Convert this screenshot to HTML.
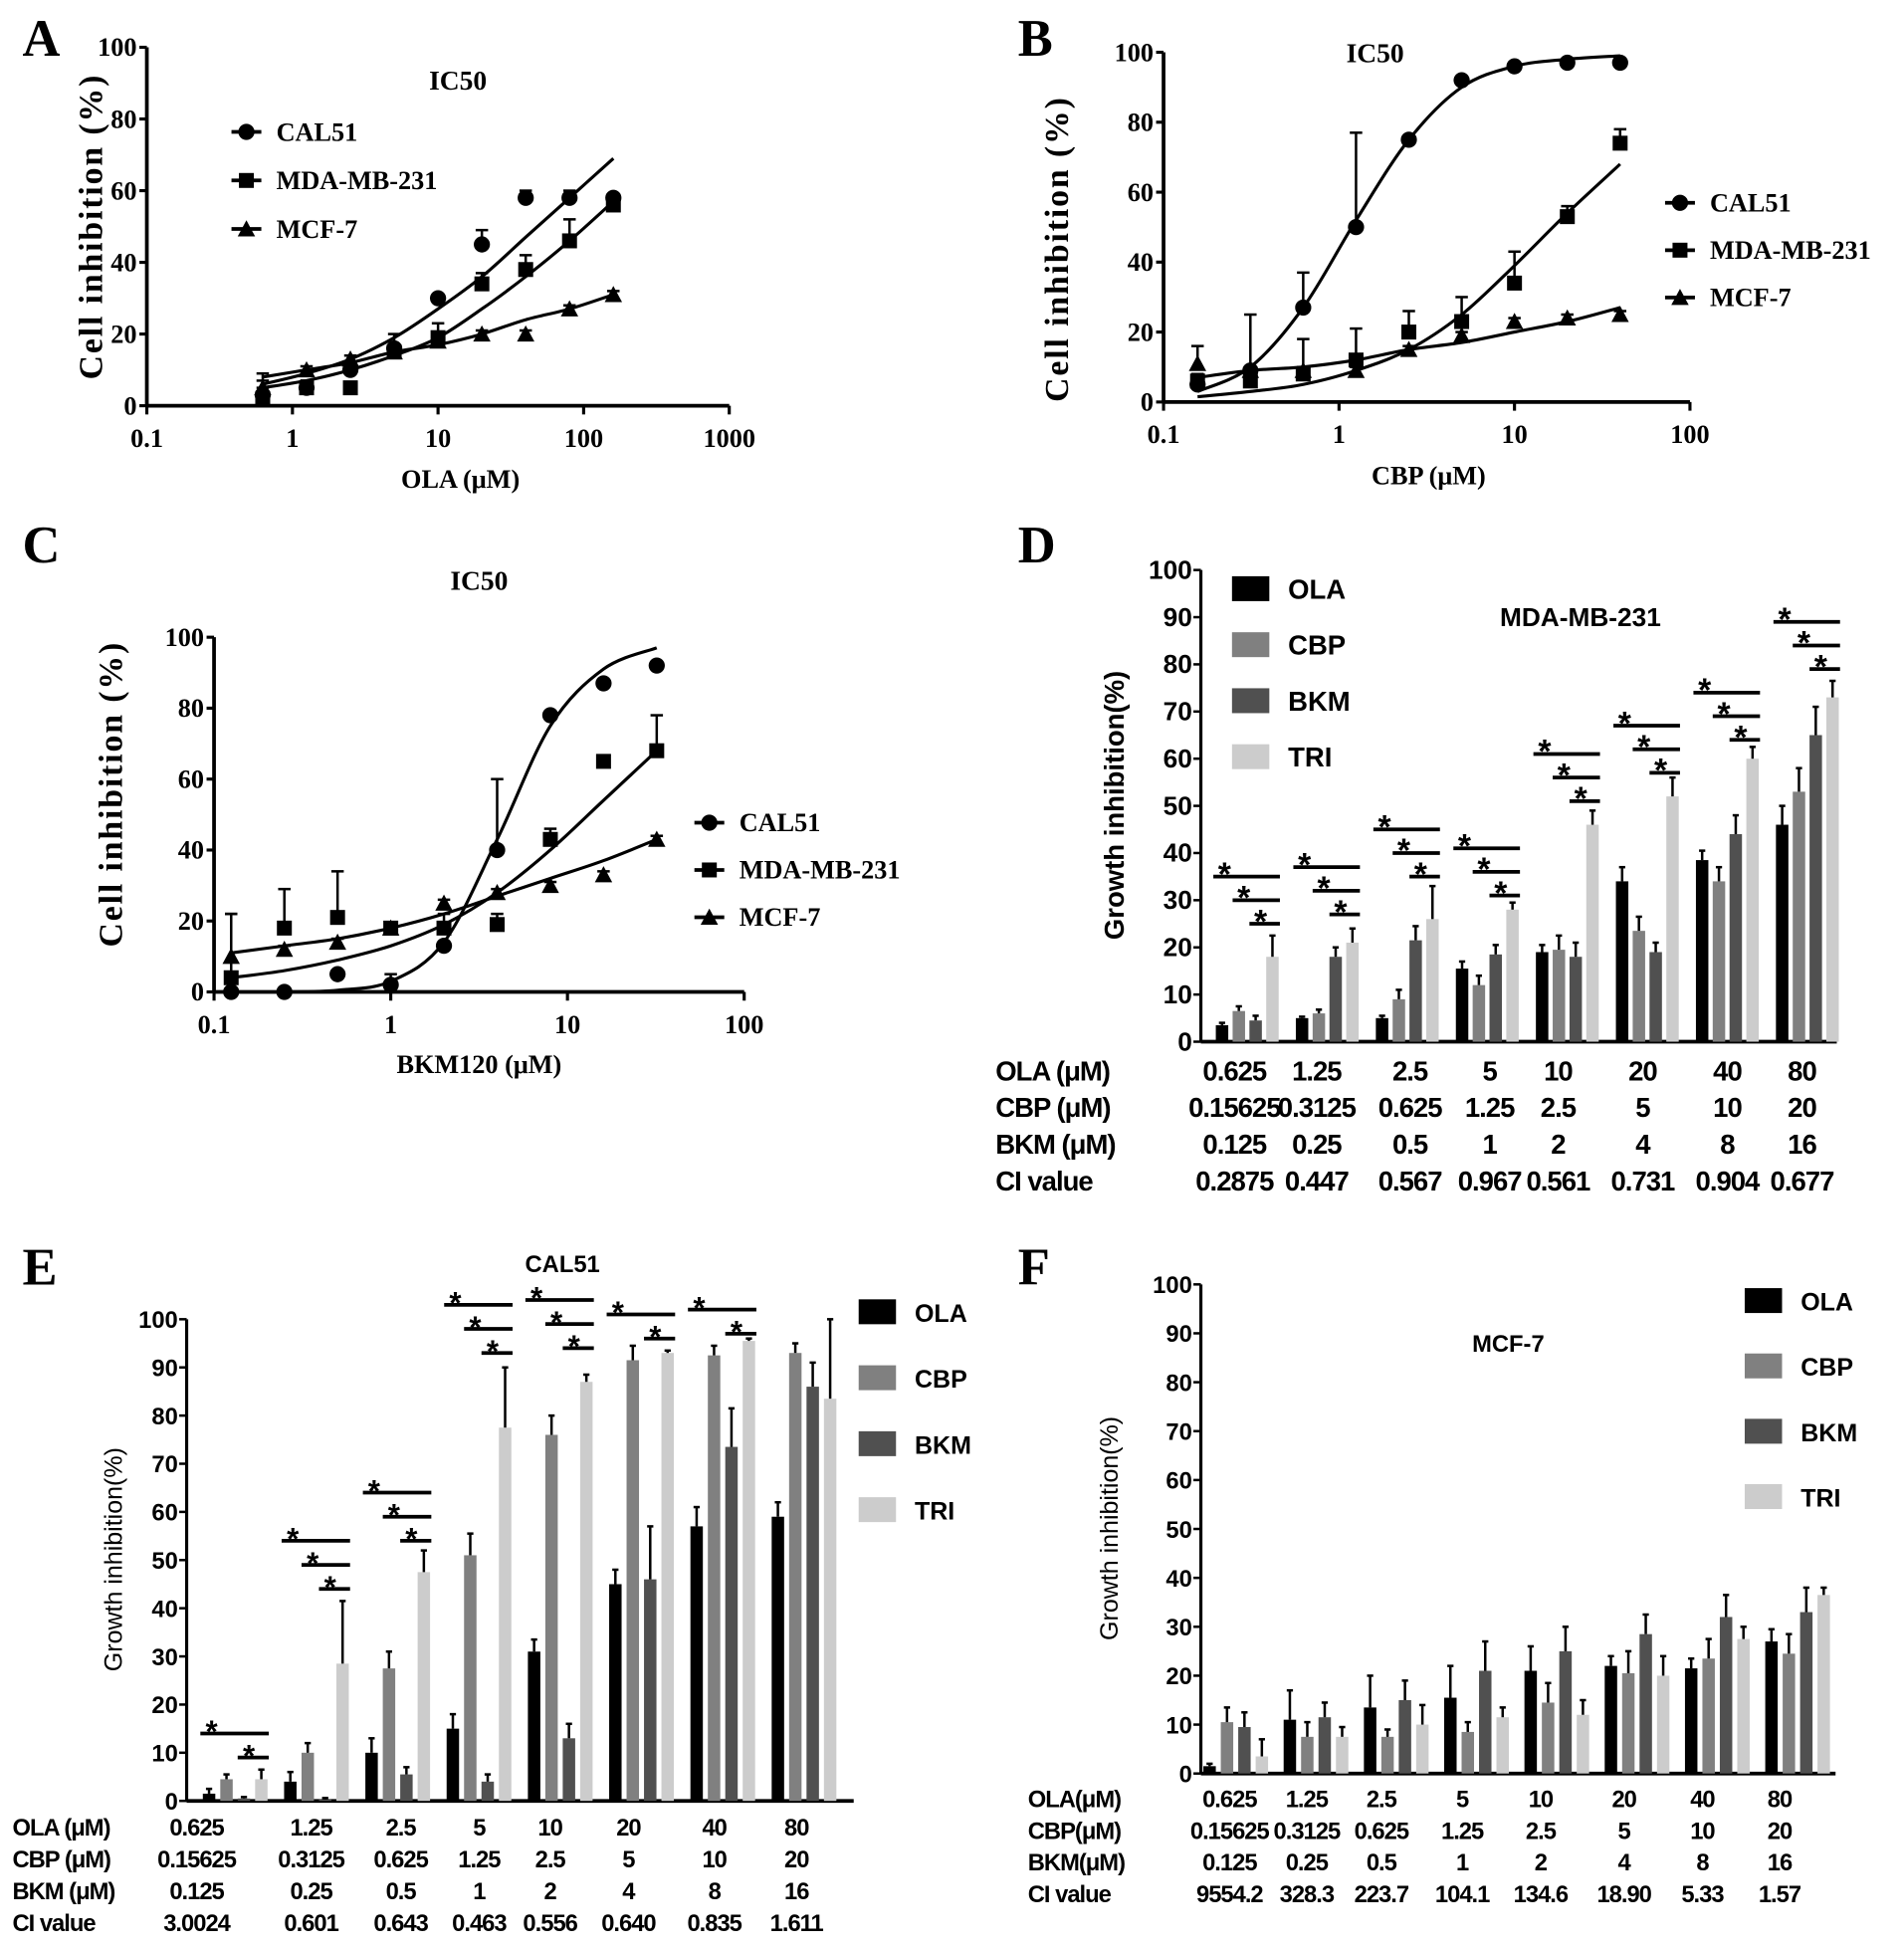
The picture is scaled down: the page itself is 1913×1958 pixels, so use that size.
<!DOCTYPE html>
<html><head><meta charset="utf-8"><style>
html,body{margin:0;padding:0;background:#fff;}
svg{display:block;}
.serif{font-family:"Liberation Serif",serif;font-weight:bold;}
.sans{font-family:"Liberation Sans",sans-serif;font-weight:bold;}
.sansn{font-family:"Liberation Sans",sans-serif;}
.tbl{font-family:"Liberation Sans",sans-serif;font-weight:bold;letter-spacing:-0.8px;}
</style></head><body>
<svg id="fig" width="1913" height="1958" viewBox="0 0 1530 1566" preserveAspectRatio="none" xmlns="http://www.w3.org/2000/svg"></svg>
<script>
// ---------- Panel A data ----------
const aX=[0.625,1.25,2.5,5,10,20,40,80,160];
const aCal=[3,5,10,16,30,45,58,58,58];
const aCalErr=[4,2,2,4,1,4,2,2,1];
const aMda=[2,5,5,15,19,34,38,46,56];
const aMdaErr=[3,2,1,2,4,3,4,6,2];
const aMcf=[5,10,13,15,18,20,20,27,31];
const aMcfErr=[4,1,1,1,1,1,1,1,1];
const aFitX=[0.625,1.25,2.5,5,10,20,40,80,160];
const aCalFit=[6,9,13,19,27,36,47,58,69];
const aMdaFit=[5,7,10,14,19,27,36,46,57];
const aMcfFit=[8,10,12,15,17,20,24,27,31];
// ---------- Panel B data ----------
const bX=[0.15625,0.3125,0.625,1.25,2.5,5,10,20,40];
const bCal=[5,9,27,50,75,92,96,97,97];
const bCalErr=[1,16,10,27,1,1,1,1,1];
const bMda=[6,6,8,12,20,23,34,53,74];
const bMdaErr=[2,1,10,9,6,7,9,3,4];
const bMcf=[11,9,9,9,15,19,23,24,25];
const bMcfErr=[5,1,1,1,1,1,1,1,1];
const bFitX=[0.15625,0.3125,0.625,1.25,2.5,5,10,20,40];
const bCalFit=[3,10,27,52,75,90,96,98,99];
const bMdaFit=[1.5,3,5,9,15,25,39,54,68];
const bMcfFit=[7,9,10,12,15,17,20,23,27];
// ---------- Panel C data ----------
const cX=[0.125,0.25,0.5,1,2,4,8,16,32];
const cCal=[0,0,5,2,13,40,78,87,92];
const cCalErr=[1,1,1,3,1,20,1,1,1];
const cMda=[4,18,21,18,18,19,43,65,68];
const cMdaErr=[18,11,13,1,4,3,3,1,10];
const cMcf=[10,12,14,18,25,28,30,33,43];
const cMcfErr=[12,1,1,1,1,1,1,1,1];
const cFitX=[0.125,0.25,0.5,1,2,4,8,16,32];
const cCalFit=[0,0,0.5,3,14,43,75,91,97];
const cMdaFit=[4,6,9,13,19,28,40,54,68];
const cMcfFit=[11,13,15,18,22,27,32,37,43];
// ---------- Bar panels ----------
const groups=["0.625","1.25","2.5","5","10","20","40","80"];
const seriesNames=["OLA","CBP","BKM","TRI"];
const dOla=[3.5,5,5,15.5,19,34,38.5,46];
const dCbp=[6.5,6,9,12,19.5,23.5,34,53];
const dBkm=[4.5,18,21.5,18.5,18,19,44,65];
const dTri=[18,21,26,28,46,52,60,73];
const dOlaErr=[0.5,0.3,0.5,1.5,1.5,3,2,4];
const dCbpErr=[1,0.8,2,2,3,3,3,5];
const dBkmErr=[1,2,3,2,3,2,4,6];
const dTriErr=[4.5,3,7,1.5,3,4,2.5,3.5];
const dSigBase=[25,27,35,31,51,57,64,79];
const dSigCount=[3,3,3,3,3,3,3,3];
const eOla=[1.5,4,10,15,31,45,57,59];
const eCbp=[4.5,10,27.5,51,76,91.5,92.5,93];
const eBkm=[0.5,0.3,5.5,4,13,46,73.5,86];
const eTri=[4.5,28.5,47.5,77.5,87,93,95.5,83.5];
const eOlaErr=[1,2,3,3,2.5,3,4,3];
const eCbpErr=[1,2,3.5,4.5,4,3,2,2];
const eBkmErr=[0.3,0.3,1.5,1.5,3,11,8,5];
const eTriErr=[2,13,4.5,12.5,1.5,0.5,0.5,16.5];
const eSigBase=[9,44,54,93,94,96,97,0];
const eSigCount=[2,3,3,3,3,2,2,0];
const fOla=[1.5,11,13.5,15.5,21,22,21.5,27];
const fCbp=[10.5,7.5,7.5,8.5,14.5,20.5,23.5,24.5];
const fBkm=[9.5,11.5,15,21,25,28.5,32,33];
const fTri=[3.5,7.5,10,11.5,12,20,27.5,36.5];
const fOlaErr=[0.5,6,6.5,6.5,5,2,2,2.5];
const fCbpErr=[3,3,1.5,2,4,4.5,4,4];
const fBkmErr=[3,3,4,6,5,4,4.5,5];
const fTriErr=[3.5,2,4,2,3,4,2.5,1.5];

const NS="http://www.w3.org/2000/svg";
const svg=document.getElementById('fig');
function mk(tag,attrs,parent){const e=document.createElementNS(NS,tag);for(const k in attrs)e.setAttribute(k,attrs[k]);(parent||svg).appendChild(e);return e;}
function txt(s,x,y,size,cls,anchor,parent,rot){const t=mk('text',{x:x,y:y,'font-size':size,class:cls,'text-anchor':anchor||'middle',fill:'#000'},parent);if(rot)t.setAttribute('transform','rotate(-90 '+x+' '+y+')');t.textContent=s;return t;}

function panelLetter(s,x,y){const t=txt(s,x,y,42,'serif','start');

}

function marker(g,type,x,y,s){
  if(type==='circle')return mk('circle',{cx:x,cy:y,r:6.5*s,fill:'#000'},g);
  if(type==='square')return mk('rect',{x:x-6*s,y:y-6*s,width:12*s,height:12*s,fill:'#000'},g);
  return mk('polygon',{points:(x)+','+(y-7*s)+' '+(x-7*s)+','+(y+6*s)+' '+(x+7*s)+','+(y+6*s),fill:'#000'},g);
}

function scatterPanel(L,xs,series,fitX,legendNames){
  const g=mk('g',{});
  
  
  const xS=v=>L.x0+(Math.log10(v)-L.logMin)*L.dec;
  const yS=v=>L.y0-(v/100)*(L.y0-L.y100);
  const xEnd=L.x0+(L.logMax-L.logMin)*L.dec;
  const ax=mk('g',{},g);
  
  
  mk('line',{x1:L.x0,y1:L.y0,x2:L.x0,y2:L.y100,stroke:'#000','stroke-width':3},ax);
  mk('line',{x1:L.x0,y1:L.y0,x2:xEnd,y2:L.y0,stroke:'#000','stroke-width':3},ax);
  for(let v=0;v<=100;v+=20){const y=yS(v);mk('line',{x1:L.x0-6,y1:y,x2:L.x0,y2:y,stroke:'#000','stroke-width':2.5},ax);txt(String(v),L.x0-8,y+7,21,'serif','end',ax);}
  for(let p=L.logMin;p<=L.logMax;p++){const x=L.x0+(p-L.logMin)*L.dec;mk('line',{x1:x,y1:L.y0,x2:x,y2:L.y0+7,stroke:'#000','stroke-width':2.5},ax);
    txt(p<0?'0.1':String(Math.pow(10,p)),x,L.y0+33,21,'serif','middle',ax);}
  const yt=txt('Cell inhibition  (%)',L.ytx,L.yty,27,'serif','middle',g,true);
  yt.setAttribute('letter-spacing','1.5');
  
  const xt=txt(L.xlabel,L.xlx,L.xly,21,'serif','middle',g);
  
  const tt=txt('IC50',L.tx,L.ty,22,'serif','middle',g);
  
  const types=['circle','square','triangle'];
  series.forEach((s,i)=>{
    const sg=mk('g',{},g);
    
    
    const path=mk('path',{d:smooth(fitX.map((x,j)=>[xS(x),yS(s.fit[j])])),fill:'none',stroke:'#000','stroke-width':2.5},sg);
    
    s.vals.forEach((v,j)=>{const x=xS(xs[j]),y=yS(v),ye=yS(v+s.err[j]);
      mk('line',{x1:x,y1:y,x2:x,y2:ye,stroke:'#000','stroke-width':2},sg);
      mk('line',{x1:x-5,y1:ye,x2:x+5,y2:ye,stroke:'#000','stroke-width':2},sg);
      const m=marker(sg,types[i],x,y,1);
      
      });
  });
  legendNames.forEach((n,i)=>{const lg=mk('g',{},g);
    
    
    const y=L.ly+i*L.lsp;
    mk('line',{x1:L.lx-12,y1:y,x2:L.lx+12,y2:y,stroke:'#000','stroke-width':3},lg);
    marker(lg,types[i],L.lx,y,1);
    txt(n,L.lx+24,y+7,21,'serif','start',lg);});
}
function smooth(pts){let d='M'+pts[0][0]+','+pts[0][1];
  for(let i=0;i<pts.length-1;i++){const p0=pts[Math.max(0,i-1)],p1=pts[i],p2=pts[i+1],p3=pts[Math.min(pts.length-1,i+2)];
    const c1=[p1[0]+(p2[0]-p0[0])/6,p1[1]+(p2[1]-p0[1])/6],c2=[p2[0]-(p3[0]-p1[0])/6,p2[1]-(p3[1]-p1[1])/6];
    d+=' C'+c1[0].toFixed(1)+','+c1[1].toFixed(1)+' '+c2[0].toFixed(1)+','+c2[1].toFixed(1)+' '+p2[0].toFixed(1)+','+p2[1].toFixed(1);}
  return d;}

const colors=['#000000','#808080','#505050','#cccccc'];
function barPanel(L,vals,errs,sigBase,sigCount,table){
  const g=mk('g',{});
  
  
  const yS=v=>L.y0-(v/100)*(L.y0-L.y100);
  const gx=i=>L.gx0+i*L.gsp;
  const bw=L.bw,bs=L.bs;
  const ax=mk('g',{},g);
  
  
  mk('line',{x1:L.x0,y1:L.y0,x2:L.x0,y2:L.y100,stroke:'#000','stroke-width':2.5},ax);
  mk('line',{x1:L.x0,y1:L.y0,x2:L.xEnd,y2:L.y0,stroke:'#000','stroke-width':3},ax);
  for(let v=0;v<=100;v+=10){const y=yS(v);mk('line',{x1:L.x0-6,y1:y,x2:L.x0,y2:y,stroke:'#000','stroke-width':2},ax);txt(String(v),L.x0-7,y+7,L.tfs,'sans','end',ax);}
  const yt=txt('Growth inhibition(%)',L.ytx,L.yty,L.yfs,L.ycls,'middle',g,true);
  
  const tt=txt(L.title,L.tx,L.ty,L.tfs,'sans','middle',g);
  
  for(let i=0;i<groups.length;i++){
    for(let s=0;s<4;s++){
      const x=gx(i)+s*bs, v=vals[s][i], e=errs[s][i];
      const r=mk('rect',{x:x,y:yS(v),width:bw,height:Math.max(0,L.y0-yS(v)),fill:colors[s]},g);
      
      
      const cx=x+bw/2;
      mk('line',{x1:cx,y1:yS(v),x2:cx,y2:yS(v+e),stroke:'#000','stroke-width':2},g);
      mk('line',{x1:cx-2.5,y1:yS(v+e),x2:cx+2.5,y2:yS(v+e),stroke:'#000','stroke-width':2},g);
    }
    const n=sigCount[i];
    for(let k=0;k<n;k++){
      const y=yS(sigBase[i]+k*L.sigSp);
      const startBar=(n===2&&k===1)?0:(2-k);
      const x1=gx(i)+startBar*bs-(k===n-1?2:0), x2=gx(i)+3*bs+bw+1;
      const sl=mk('line',{x1:x1,y1:y,x2:x2,y2:y,stroke:'#000','stroke-width':3},g);
      
      
      txt('*',x1+9,y+7,L.tfs+6,'sans','middle',g);
    }
  }
  seriesNames.forEach((n,i)=>{const lg=mk('g',{},g);
    
    
    const y=L.ly+i*L.lsp;
    mk('rect',{x:L.lx,y:y-10,width:30,height:20,fill:colors[i]},lg);
    txt(n,L.lx+45,y+8,L.lfs,'sans','start',lg);});
  const tg=mk('g',{},g);
  
  
  table.rows.forEach((row,r)=>{const y=table.y0+r*table.dy;
    txt(row[0],table.lx,y,table.fs,'tbl','start',tg);
    for(let c=1;c<row.length;c++)txt(row[c],table.cx[c-1],y,table.fs,'tbl','middle',tg);});
}

panelLetter('A',18,45);panelLetter('B',818,45);panelLetter('C',18,452);panelLetter('D',818,452);panelLetter('E',18,1032);panelLetter('F',818,1032);

scatterPanel({name:'panel-a-chart',x0:118,y0:326,y100:38,logMin:-1,logMax:3,dec:117,ytx:82,yty:182,xlabel:'OLA (μM)',xlx:370,xly:392,tx:368,ty:72,lx:198,ly:106,lsp:39},
 aX,[{vals:aCal,err:aCalErr,fit:aCalFit},{vals:aMda,err:aMdaErr,fit:aMdaFit},{vals:aMcf,err:aMcfErr,fit:aMcfFit}],aFitX,['CAL51','MDA-MB-231','MCF-7']);
scatterPanel({name:'panel-b-chart',x0:935,y0:323,y100:42,logMin:-1,logMax:2,dec:141,ytx:858,yty:200,xlabel:'CBP (μM)',xlx:1148,xly:389,tx:1105,ty:50,lx:1350,ly:163,lsp:38},
 bX,[{vals:bCal,err:bCalErr,fit:bCalFit},{vals:bMda,err:bMdaErr,fit:bMdaFit},{vals:bMcf,err:bMcfErr,fit:bMcfFit}],bFitX,['CAL51','MDA-MB-231','MCF-7']);
scatterPanel({name:'panel-c-chart',x0:172,y0:797,y100:512,logMin:-1,logMax:2,dec:142,ytx:98,yty:638,xlabel:'BKM120 (μM)',xlx:385,xly:862,tx:385,ty:474,lx:570,ly:661,lsp:38},
 cX,[{vals:cCal,err:cCalErr,fit:cCalFit},{vals:cMda,err:cMdaErr,fit:cMdaFit},{vals:cMcf,err:cMcfErr,fit:cMcfFit}],cFitX,['CAL51','MDA-MB-231','MCF-7']);

barPanel({name:'panel-d-chart',x0:965,y0:837,y100:458,xEnd:1476,gx0:977,gsp:64.3,bw:10,bs:13.5,tfs:21,yfs:22,ycls:'sans',ytx:903,yty:647,title:'MDA-MB-231',tx:1270,ty:503,ly:473,lsp:45,lx:990,lfs:22,sigSp:5},
 [dOla,dCbp,dBkm,dTri],[dOlaErr,dCbpErr,dBkmErr,dTriErr],dSigBase,dSigCount,
 {y0:868,dy:29.5,lx:800,fs:22,cx:[992,1058,1133,1197,1252,1320,1388,1448],rows:[
  ['OLA  (μM)','0.625','1.25','2.5','5','10','20','40','80'],
  ['CBP  (μM)','0.15625','0.3125','0.625','1.25','2.5','5','10','20'],
  ['BKM  (μM)','0.125','0.25','0.5','1','2','4','8','16'],
  ['  CI value','0.2875','0.447','0.567','0.967','0.561','0.731','0.904','0.677']]});
barPanel({name:'panel-e-chart',x0:150,y0:1447,y100:1060,xEnd:686,gx0:163,gsp:65.3,bw:10,bs:14,tfs:19,yfs:20,ycls:'sansn',ytx:98,yty:1253,title:'CAL51',tx:452,ty:1022,ly:1054,lsp:53,lx:690,lfs:20,sigSp:5},
 [eOla,eCbp,eBkm,eTri],[eOlaErr,eCbpErr,eBkmErr,eTriErr],eSigBase,eSigCount,
 {y0:1475,dy:25.5,lx:10,fs:19,cx:[158,250,322,385,442,505,574,640],rows:[
  ['OLA  (μM)','0.625','1.25','2.5','5','10','20','40','80'],
  ['CBP  (μM)','0.15625','0.3125','0.625','1.25','2.5','5','10','20'],
  ['BKM  (μM)','0.125','0.25','0.5','1','2','4','8','16'],
  ['CI value','3.0024','0.601','0.643','0.463','0.556','0.640','0.835','1.611']]});
barPanel({name:'panel-f-chart',x0:965,y0:1425,y100:1032,xEnd:1475,gx0:967,gsp:64.5,bw:10,bs:14,tfs:19,yfs:20,ycls:'sansn',ytx:898,yty:1228,title:'MCF-7',tx:1212,ty:1086,ly:1045,lsp:52.5,lx:1402,lfs:20,sigSp:5},
 [fOla,fCbp,fBkm,fTri],[fOlaErr,fCbpErr,fBkmErr,fTriErr],[0,0,0,0,0,0,0,0],[0,0,0,0,0,0,0,0],
 {y0:1452,dy:25.5,lx:826,fs:19,cx:[988,1050,1110,1175,1238,1305,1368,1430],rows:[
  ['OLA(μM)','0.625','1.25','2.5','5','10','20','40','80'],
  ['CBP(μM)','0.15625','0.3125','0.625','1.25','2.5','5','10','20'],
  ['BKM(μM)','0.125','0.25','0.5','1','2','4','8','16'],
  ['CI value','9554.2','328.3','223.7','104.1','134.6','18.90','5.33','1.57']]});
</script>
</body></html>
